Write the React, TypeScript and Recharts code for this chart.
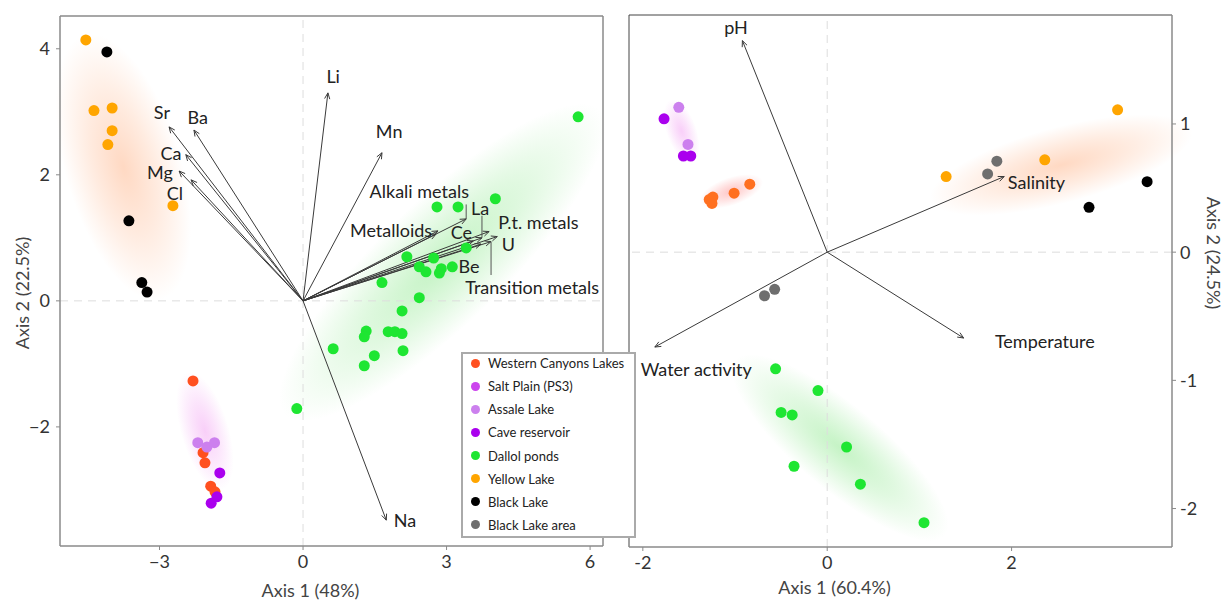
import React from "react";
import { ScatterChart, Scatter, XAxis, YAxis, ReferenceLine } from "recharts";

const FONT = "Lato, 'Open Sans', 'DejaVu Sans', sans-serif";

// ---------- legend ----------
const seriesNames = [
  "Western Canyons Lakes",
  "Salt Plain (PS3)",
  "Assale Lake",
  "Cave reservoir",
  "Dallol ponds",
  "Yellow Lake",
  "Black Lake",
  "Black Lake area",
];
const seriesColors = ["#FF5020", "#CC44EE", "#CC80EE", "#AA00EE", "#1EE632", "#FFA500", "#000000", "#6E6E6E"];

// ---------- left panel (elements) ----------
const leftXDomain = [-5.08, 6.27];
const leftYDomain = [-3.89, 4.52];
const leftXTicks = [-3, 0, 3, 6];
const leftYTicks = [-2, 0, 2, 4];

const leftWesternCanyons = [
  { x: -2.3, y: -1.27 },
  { x: -2.09, y: -2.41 },
  { x: -2.05, y: -2.57 },
  { x: -1.93, y: -2.94 },
  { x: -1.84, y: -3.03 },
];
const leftAssale = [
  { x: -2.2, y: -2.25 },
  { x: -2.01, y: -2.32 },
  { x: -1.85, y: -2.25 },
];
const leftCave = [
  { x: -1.74, y: -2.73 },
  { x: -1.8, y: -3.11 },
  { x: -1.92, y: -3.21 },
];
const leftDallol = [
  { x: 5.75, y: 2.92 },
  { x: 2.8, y: 1.49 },
  { x: 3.24, y: 1.49 },
  { x: 4.02, y: 1.62 },
  { x: 3.41, y: 0.84 },
  { x: 2.17, y: 0.7 },
  { x: 2.73, y: 0.68 },
  { x: 2.43, y: 0.54 },
  { x: 2.57, y: 0.46 },
  { x: 2.85, y: 0.44 },
  { x: 2.89, y: 0.51 },
  { x: 3.12, y: 0.54 },
  { x: 1.65, y: 0.29 },
  { x: 2.43, y: 0.05 },
  { x: 2.07, y: -0.16 },
  { x: 1.32, y: -0.48 },
  { x: 1.28, y: -0.57 },
  { x: 1.78, y: -0.49 },
  { x: 1.92, y: -0.49 },
  { x: 2.07, y: -0.52 },
  { x: 0.63, y: -0.76 },
  { x: 2.09, y: -0.79 },
  { x: 1.49, y: -0.87 },
  { x: 1.28, y: -1.03 },
  { x: -0.13, y: -1.71 },
];
const leftYellow = [
  { x: -4.54, y: 4.14 },
  { x: -4.37, y: 3.02 },
  { x: -3.99, y: 3.06 },
  { x: -3.99, y: 2.7 },
  { x: -4.08, y: 2.48 },
  { x: -2.72, y: 1.51 },
];
const leftBlack = [
  { x: -4.1, y: 3.95 },
  { x: -3.64, y: 1.27 },
  { x: -3.37, y: 0.29 },
  { x: -3.26, y: 0.14 },
];

const leftArrows = [
  { name: "Li", x: 0.52, y: 3.3 },
  { name: "Mn", x: 1.65, y: 2.35 },
  { name: "Sr", x: -2.8, y: 2.76 },
  { name: "Ba", x: -2.28, y: 2.71 },
  { name: "Ca", x: -2.45, y: 2.32 },
  { name: "Mg", x: -2.59, y: 2.06 },
  { name: "Cl", x: -2.34, y: 1.92 },
  { name: "Na", x: 1.74, y: -3.48 },
  { name: "Alkali metals", x: 3.41, y: 1.3 },
  { name: "Metalloids", x: 2.82, y: 1.11 },
  { name: "Metalloids2", x: 2.78, y: 1.06 },
  { name: "Ce", x: 3.56, y: 0.95 },
  { name: "La", x: 3.74, y: 1.0 },
  { name: "P.t. metals", x: 3.89, y: 1.1 },
  { name: "U", x: 4.06, y: 1.02 },
  { name: "Transition metals", x: 3.93, y: 0.94 },
  { name: "Be", x: 3.72, y: 0.9 },
];
const leftLabels = [
  { name: "Li", x: 0.63, y: 3.57 },
  { name: "Mn", x: 1.8, y: 2.7 },
  { name: "Sr", x: -2.95, y: 3.0 },
  { name: "Ba", x: -2.2, y: 2.92 },
  { name: "Ca", x: -2.76, y: 2.35 },
  { name: "Mg", x: -2.99, y: 2.05 },
  { name: "Cl", x: -2.68, y: 1.71 },
  { name: "Na", x: 2.13, y: -3.48 },
  { name: "Alkali metals", x: 2.43, y: 1.75 },
  { name: "Metalloids", x: 1.84, y: 1.13 },
  { name: "La", x: 3.7, y: 1.48 },
  { name: "Ce", x: 3.31, y: 1.1 },
  { name: "P.t. metals", x: 4.92, y: 1.25 },
  { name: "U", x: 4.29, y: 0.9 },
  { name: "Be", x: 3.47, y: 0.56 },
  { name: "Transition metals", x: 4.79, y: 0.22 },
];
const leftLeaders = [
  { x1: 3.41, y1: 1.3, x2: 3.41, y2: 1.53 },
  { x1: 3.74, y1: 1.0, x2: 3.74, y2: 1.35 },
  { x1: 3.93, y1: 0.94, x2: 3.93, y2: 0.41 },
];
const leftEllipses = [
  { x1: -4.56, y1: 4.22, x2: -2.95, y2: 0.02 },
  { x1: -2.41, y1: -1.13, x2: -1.69, y2: -3.0 },
  { x1: -0.38, y1: -1.81, x2: 6.21, y2: 3.03 },
];
const leftEllipseStyle = [
  { half: 58, color: "#FF9A60" },
  { half: 24, color: "#EE80EE" },
  { half: 62, color: "#66E066" },
];

// ---------- right panel (environment) ----------
const rightXDomain = [-2.15, 3.74];
const rightYDomain = [-2.3, 1.85];
const rightXTicks = [-2, 0, 2];
const rightYTicks = [-2, -1, 0, 1];

const rightWesternCanyons = [
  { x: -1.28, y: 0.41 },
  { x: -1.24, y: 0.43 },
  { x: -1.25, y: 0.38 },
  { x: -1.01, y: 0.46 },
  { x: -0.84, y: 0.53 },
];
const rightAssale = [
  { x: -1.61, y: 1.13 },
  { x: -1.51, y: 0.84 },
];
const rightCave = [
  { x: -1.77, y: 1.04 },
  { x: -1.56, y: 0.75 },
  { x: -1.48, y: 0.75 },
];
const rightDallol = [
  { x: -0.56, y: -0.91 },
  { x: -0.1, y: -1.08 },
  { x: -0.5, y: -1.25 },
  { x: -0.38, y: -1.27 },
  { x: 0.21, y: -1.52 },
  { x: -0.36, y: -1.67 },
  { x: 0.36, y: -1.81 },
  { x: 1.05, y: -2.11 },
];
const rightYellow = [
  { x: 1.29, y: 0.59 },
  { x: 2.36, y: 0.72 },
  { x: 3.15, y: 1.11 },
];
const rightBlack = [
  { x: 2.84, y: 0.35 },
  { x: 3.47, y: 0.55 },
];
const rightBlackArea = [
  { x: -0.68, y: -0.34 },
  { x: -0.57, y: -0.29 },
  { x: 1.84, y: 0.71 },
  { x: 1.74, y: 0.61 },
];
const rightArrows = [
  { name: "pH", x: -0.92, y: 1.65 },
  { name: "Salinity", x: 1.92, y: 0.59 },
  { name: "Temperature", x: 1.48, y: -0.67 },
  { name: "Water activity", x: -1.87, y: -0.74 },
];
const rightLabels = [
  { name: "pH", x: -0.99, y: 1.76 },
  { name: "Salinity", x: 2.27, y: 0.55 },
  { name: "Temperature", x: 2.36, y: -0.69 },
  { name: "Water activity", x: -1.42, y: -0.91 },
];
const rightEllipses = [
  { x1: -1.7, y1: 1.19, x2: -1.46, y2: 0.7 },
  { x1: -1.38, y1: 0.39, x2: -0.7, y2: 0.56 },
  { x1: 1.12, y1: 0.41, x2: 3.96, y2: 0.95 },
  { x1: -1.0, y1: -0.84, x2: 1.28, y2: -2.21 },
];
const rightEllipseStyle = [
  { half: 15, color: "#EE80EE" },
  { half: 14, color: "#FF6A6A" },
  { half: 38, color: "#FF9A60" },
  { half: 42, color: "#66E066" },
];

// ---------- helpers ----------
const minusFmt = (v: number) => String(v).replace("-", "\u2212");

const dot = (color: string, r = 5.5) => (p: any) =>
  p.cx == null ? <g /> : <circle cx={p.cx} cy={p.cy} r={r} fill={color} />;

const textShape = (p: any) =>
  p.cx == null ? (
    <g />
  ) : (
    <text
      x={p.cx}
      y={p.cy}
      textAnchor="middle"
      dominantBaseline="central"
      fontSize={18}
      fontFamily={FONT}
      fill="#222"
    >
      {p.payload.name}
    </text>
  );

const arrowShape = (p: any) => {
  const { x1, y1, x2, y2 } = p;
  if (x1 == null) return <g />;
  const a = Math.atan2(y2 - y1, x2 - x1);
  const L = 6;
  const W = 2.6;
  const bx = x2 - L * Math.cos(a);
  const by = y2 - L * Math.sin(a);
  const pA = `${bx + W * Math.sin(a)},${by - W * Math.cos(a)}`;
  const pB = `${bx - W * Math.sin(a)},${by + W * Math.cos(a)}`;
  return (
    <g>
      <line x1={x1} y1={y1} x2={x2} y2={y2} stroke="#3a3a3a" strokeWidth={1} />
      <polyline points={`${pA} ${x2},${y2} ${pB}`} fill="none" stroke="#3a3a3a" strokeWidth={1} />
    </g>
  );
};

const leaderShape = (p: any) =>
  p.x1 == null ? <g /> : <line x1={p.x1} y1={p.y1} x2={p.x2} y2={p.y2} stroke="#555" strokeWidth={1} />;

const ellipseShape = (half: number, color: string, id: string) => (p: any) => {
  const { x1, y1, x2, y2 } = p;
  if (x1 == null) return <g />;
  const cx = (x1 + x2) / 2;
  const cy = (y1 + y2) / 2;
  const rx = Math.hypot(x2 - x1, y2 - y1) / 2;
  const ang = (Math.atan2(y2 - y1, x2 - x1) * 180) / Math.PI;
  return (
    <g>
      <defs>
        <radialGradient id={id} cx="50%" cy="50%" r="50%">
          <stop offset="0%" stopColor={color} stopOpacity={0.38} />
          <stop offset="50%" stopColor={color} stopOpacity={0.2} />
          <stop offset="100%" stopColor={color} stopOpacity={0} />
        </radialGradient>
      </defs>
      <ellipse
        cx={0}
        cy={0}
        rx={rx}
        ry={half}
        fill={`url(#${id})`}
        transform={`translate(${cx} ${cy}) rotate(${ang})`}
      />
    </g>
  );
};

const axisLabel =
  (text: string, dx: number, dy: number, angle: number, centerX: boolean) => (props: any) => {
    const vb = props.viewBox || {};
    const cx = centerX ? vb.x + vb.width / 2 + dx : vb.x + dx;
    const cy = centerX ? vb.y + dy : vb.y + vb.height / 2 + dy;
    return (
      <text
        x={cx}
        y={cy}
        transform={angle ? `rotate(${angle} ${cx} ${cy})` : undefined}
        textAnchor="middle"
        dominantBaseline="central"
        fontSize={18}
        fontFamily={FONT}
        fill="#444"
      >
        {text}
      </text>
    );
  };

const tickStyle = { fill: "#333", fontSize: 18, fontFamily: FONT };
const axisLineStyle = { stroke: "#8a8a8a", strokeWidth: 1.5 };

function LeftChart() {
  return (
    <ScatterChart width={620} height={601} margin={{ top: 16, right: 17, bottom: 10, left: 0 }}>
      <XAxis
        type="number"
        dataKey="x"
        domain={leftXDomain}
        ticks={leftXTicks}
        allowDataOverflow
        height={45}
        tickSize={4}
        tickMargin={5}
        axisLine={axisLineStyle}
        tickLine={{ stroke: "#8a8a8a" }}
        tick={tickStyle}
        tickFormatter={minusFmt}
        label={{ content: axisLabel("Axis 1 (48%)", -21, 44, 0, true) }}
      />
      <YAxis
        type="number"
        dataKey="y"
        domain={leftYDomain}
        ticks={leftYTicks}
        allowDataOverflow
        width={60}
        tickSize={4}
        tickMargin={6}
        axisLine={axisLineStyle}
        tickLine={{ stroke: "#8a8a8a" }}
        tick={tickStyle}
        tickFormatter={minusFmt}
        label={{ content: axisLabel("Axis 2 (22.5%)", 22, 12, -90, false) }}
      />
      {leftEllipses.map((e, i) => (
        <ReferenceLine
          key={"le" + i}
          segment={[
            { x: e.x1, y: e.y1 },
            { x: e.x2, y: e.y2 },
          ]}
          ifOverflow="visible"
          zIndex={-10}
          shape={ellipseShape(leftEllipseStyle[i].half, leftEllipseStyle[i].color, "lg" + i)}
        />
      ))}
      <ReferenceLine x={0} stroke="#dddddd" strokeDasharray="8 6" zIndex={-5} />
      <ReferenceLine y={0} stroke="#dddddd" strokeDasharray="8 6" zIndex={-5} />
      <ReferenceLine y={leftYDomain[1]} stroke="#8a8a8a" strokeWidth={1.5} />
      <ReferenceLine x={leftXDomain[1]} stroke="#8a8a8a" strokeWidth={1.5} />
      {leftArrows.map((a) => (
        <ReferenceLine
          key={"la" + a.name}
          segment={[
            { x: 0, y: 0 },
            { x: a.x, y: a.y },
          ]}
          ifOverflow="visible"
          shape={arrowShape}
        />
      ))}
      {leftLeaders.map((l, i) => (
        <ReferenceLine
          key={"ll" + i}
          segment={[
            { x: l.x1, y: l.y1 },
            { x: l.x2, y: l.y2 },
          ]}
          ifOverflow="visible"
          shape={leaderShape}
        />
      ))}
      <Scatter data={leftYellow} shape={dot(seriesColors[5])} isAnimationActive={false} />
      <Scatter data={leftBlack} shape={dot(seriesColors[6])} isAnimationActive={false} />
      <Scatter data={leftDallol} shape={dot(seriesColors[4])} isAnimationActive={false} />
      <Scatter data={leftWesternCanyons} shape={dot(seriesColors[0])} isAnimationActive={false} />
      <Scatter data={leftAssale} shape={dot(seriesColors[2])} isAnimationActive={false} />
      <Scatter data={leftCave} shape={dot(seriesColors[3])} isAnimationActive={false} />
      <Scatter data={leftLabels} shape={textShape} isAnimationActive={false} />
    </ScatterChart>
  );
}

function RightChart() {
  return (
    <ScatterChart width={604} height={601} margin={{ top: 15, right: 0, bottom: 10, left: 9 }}>
      <XAxis
        type="number"
        dataKey="x"
        domain={rightXDomain}
        ticks={rightXTicks}
        allowDataOverflow
        height={44}
        tickSize={4}
        tickMargin={5}
        axisLine={axisLineStyle}
        tickLine={{ stroke: "#8a8a8a" }}
        tick={tickStyle}
        label={{ content: axisLabel("Axis 1 (60.4%)", -66, 40, 0, true) }}
      />
      <YAxis
        type="number"
        dataKey="y"
        orientation="right"
        domain={rightYDomain}
        ticks={rightYTicks}
        allowDataOverflow
        width={52}
        tickSize={4}
        tickMargin={4}
        axisLine={axisLineStyle}
        tickLine={{ stroke: "#8a8a8a" }}
        tick={tickStyle}
        label={{ content: axisLabel("Axis 2 (24.5%)", 42, -28, 90, false) }}
      />
      {rightEllipses.map((e, i) => (
        <ReferenceLine
          key={"re" + i}
          segment={[
            { x: e.x1, y: e.y1 },
            { x: e.x2, y: e.y2 },
          ]}
          ifOverflow="visible"
          zIndex={-10}
          shape={ellipseShape(rightEllipseStyle[i].half, rightEllipseStyle[i].color, "rg" + i)}
        />
      ))}
      <ReferenceLine x={0} stroke="#dddddd" strokeDasharray="8 6" zIndex={-5} />
      <ReferenceLine y={0} stroke="#dddddd" strokeDasharray="8 6" zIndex={-5} />
      <ReferenceLine y={rightYDomain[1]} stroke="#444" strokeWidth={1} />
      <ReferenceLine x={rightXDomain[0]} stroke="#444" strokeWidth={1} />
      {rightArrows.map((a) => (
        <ReferenceLine
          key={"ra" + a.name}
          segment={[
            { x: 0, y: 0 },
            { x: a.x, y: a.y },
          ]}
          ifOverflow="visible"
          shape={arrowShape}
        />
      ))}
      <Scatter data={rightDallol} shape={dot(seriesColors[4])} isAnimationActive={false} />
      <Scatter data={rightYellow} shape={dot(seriesColors[5])} isAnimationActive={false} />
      <Scatter data={rightBlack} shape={dot(seriesColors[6])} isAnimationActive={false} />
      <Scatter data={rightBlackArea} shape={dot(seriesColors[7])} isAnimationActive={false} />
      <Scatter data={rightWesternCanyons} shape={dot("#FF7020")} isAnimationActive={false} />
      <Scatter data={rightAssale} shape={dot(seriesColors[2])} isAnimationActive={false} />
      <Scatter data={rightCave} shape={dot(seriesColors[3])} isAnimationActive={false} />
      <Scatter data={rightLabels} shape={textShape} isAnimationActive={false} />
    </ScatterChart>
  );
}

function LegendBox() {
  return (
    <div
      style={{
        position: "absolute",
        left: 461,
        top: 352,
        width: 171,
        height: 182,
        border: "2px solid #aaaaaa",
        background: "#fff",
        zIndex: 10,
        fontFamily: FONT,
        fontSize: 13,
        color: "#222",
      }}
    >
      {seriesNames.map((n, i) => (
        <div
          key={n}
          style={{
            position: "absolute",
            left: 0,
            top: i * 23.14,
            height: 18,
            display: "flex",
            alignItems: "center",
            whiteSpace: "nowrap",
          }}
        >
          <span
            style={{
              display: "inline-block",
              width: 9,
              height: 9,
              borderRadius: "50%",
              background: seriesColors[i],
              marginLeft: 8,
              marginRight: 8,
            }}
          />
          <span>{n}</span>
        </div>
      ))}
    </div>
  );
}

export default function App() {
  return (
    <div
      style={{
        position: "absolute",
        left: 0,
        top: 0,
        width: 1224,
        height: 601,
        background: "#fff",
        overflow: "hidden",
      }}
    >
      <div style={{ position: "absolute", left: 0, top: 0 }}>
        <LeftChart />
      </div>
      <div style={{ position: "absolute", left: 620, top: 0 }}>
        <RightChart />
      </div>
      <LegendBox />
    </div>
  );
}
